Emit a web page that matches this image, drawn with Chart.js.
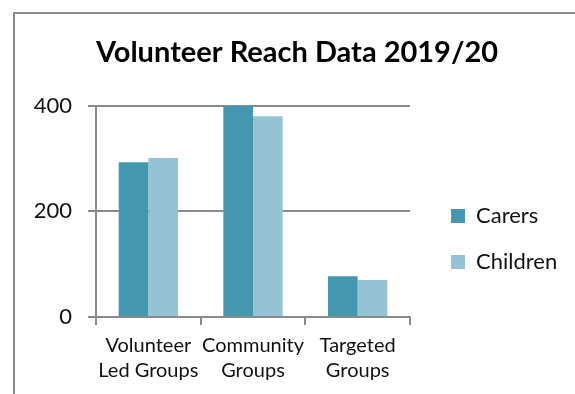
<!DOCTYPE html>
<html>
<head>
<meta charset="utf-8">
<script src="https://cdn.jsdelivr.net/npm/chart.js@4"></script>
<style>
  html, body { margin: 0; padding: 0; background: #fff; overflow: hidden; }
  #frame {
    position: absolute; left: 13px; top: 12px;
    width: 600px; height: 420px;
    border: 2px solid #8c8c8c;
  }
  #wrap { position: absolute; left: 0; top: 0; width: 575px; height: 394px; }
</style>
</head>
<body>
<div id="frame"></div>
<div id="wrap"><canvas id="reachChart"></canvas></div>
<script>
var categories = [['Volunteer', 'Led Groups'], ['Community', 'Groups'], ['Targeted', 'Groups']];
var carers = [293, 400, 77];
var children = [301, 380, 70];
var yTicks = [0, 200, 400];

var gridGrey = '#8a8a8a';

// shift the title and legend boxes off the spots Chart.js gives them
var boxNudge = {
    id: 'boxNudge',
    afterLayout: function (chart) {
        var lg = chart.legend;
        lg.left += 17; lg.right += 17;
        lg.top += 26; lg.bottom += 26;
        var tt = chart.titleBlock;
        tt.left += 17; tt.right += 17;
    }
};

document.addEventListener('DOMContentLoaded', function () {
    var ctx = document.getElementById('reachChart').getContext('2d');
    var reachChart = new Chart(ctx, {
        type: 'bar',
        data: {
            labels: categories,
            datasets: [{
                label: 'Carers',
                data: carers,
                backgroundColor: '#4398b0'
            }, {
                label: 'Children',
                data: children,
                backgroundColor: '#93c3d4'
            }]
        },
        options: {
            responsive: true,
            maintainAspectRatio: false,
            animation: false,
            datasets: {
                bar: { categoryPercentage: 0.567, barPercentage: 1 }
            },
            layout: { padding: { left: 20, right: 35, top: 35, bottom: 3 } },
            plugins: {
                title: {
                    display: true,
                    text: 'Volunteer Reach Data 2019/20',
                    color: '#000',
                    font: { family: 'Lato', size: 29, weight: 'bold' },
                    padding: { top: 0, bottom: 36 }
                },
                legend: {
                    position: 'right',
                    labels: {
                        color: '#111',
                        font: { family: 'Lato', size: 22 },
                        boxWidth: 14,
                        boxHeight: 14,
                        padding: 24
                    }
                },
                tooltip: { enabled: false }
            },
            scales: {
                x: {
                    grid: { drawOnChartArea: false, color: gridGrey, lineWidth: 2, tickLength: 8 },
                    border: { color: gridGrey, width: 2 },
                    ticks: {
                        color: '#111',
                        font: { family: 'Lato', size: 20, lineHeight: 1.25 },
                        padding: 8,
                        maxRotation: 0,
                        autoSkip: false
                    }
                },
                y: {
                    min: 0,
                    max: 400,
                    afterFit: function (scale) { scale.width = 76; },
                    afterBuildTicks: function (scale) {
                        scale.ticks = yTicks.map(function (v) { return { value: v }; });
                    },
                    grid: { color: gridGrey, lineWidth: 2, tickLength: 8 },
                    border: { color: gridGrey, width: 2 },
                    ticks: {
                        color: '#111',
                        font: { family: 'Lato', size: 22 },
                        padding: 16
                    }
                }
            }
        },
        plugins: [boxNudge]
    });
});
</script>
</body>
</html>
